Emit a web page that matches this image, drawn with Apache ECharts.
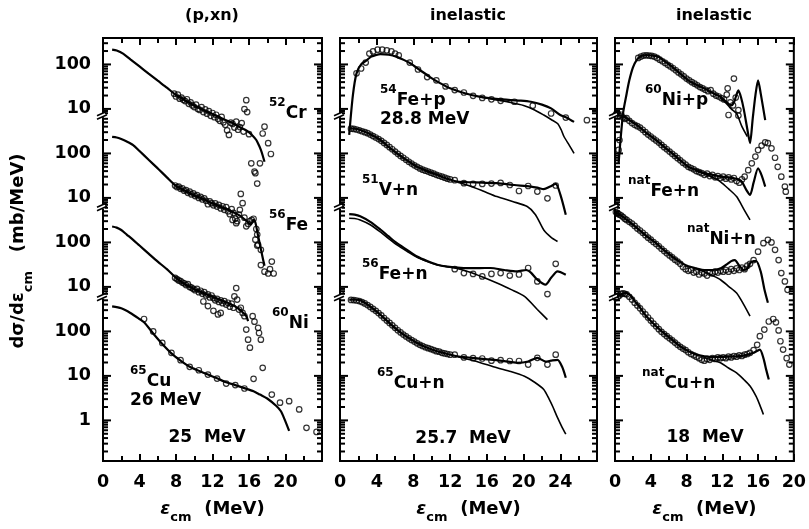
<!DOCTYPE html>
<html><head><meta charset="utf-8">
<script src="https://cdn.jsdelivr.net/npm/echarts@6/dist/echarts.min.js"></script>
<style>html,body{margin:0;padding:0;background:#fff}#c{width:809px;height:529px}</style>
</head><body><div id="c"></div>
<script>
// ================= DATA (energy in MeV, cross section in mb/MeV) =================
// ---- Panel 1: (p,xn), 25 MeV ----
const p1CrCalc = [[1,215],[1.5,205],[2.2,175],[3,130],[4,90],[5,62],[6,43],[7,30],[8,20.6],[9,15.5],[10,12],[11,9.5],[12,7.7],[13,6.2],[14,5],[15,3.9],[15.9,3.1],[16.4,2.5],[16.8,2.0],[17.1,1.5],[17.3,1.2],[17.5,0.9],[17.7,0.65]];
const p1CrExp = [[7.8,22],[8.0,19],[8.2,21],[8.4,17],[8.6,18],[8.8,16],[9.0,15],[9.2,16.5],[9.4,13],[9.6,14],[9.8,12],[10.0,11],[10.2,12.5],[10.4,10],[10.6,9.5],[10.8,11],[11.0,8.5],[11.2,9.8],[11.4,7.8],[11.6,8.9],[11.8,7],[12.0,8.1],[12.2,6.5],[12.4,7.4],[12.6,6],[12.8,5.4],[13.0,6.6],[13.2,5],[13.4,4.4],[13.6,3.3],[13.8,2.6],[14.0,4.9],[14.2,4.6],[14.4,3.8],[14.6,5.2],[14.8,3.4],[15.0,3.9],[15.2,4.8],[15.4,3.1],[15.5,9.9],[15.7,15.7],[15.8,8.5],[16.0,2.7],[16.25,0.6],[16.6,0.39],[16.7,0.36],[16.9,0.21],[17.2,0.6],[17.5,2.8],[17.7,4.0],[18.1,1.7],[18.4,0.97]];
const p1FeCalc = [[1,236],[1.5,228],[2,210],[2.6,185],[3.3,154],[4,113],[5,72],[6,46],[7,29],[8,18.6],[9,14.5],[10,11.5],[11,9.4],[12,7.6],[13,6.2],[14,5.1],[15,4.0],[15.6,3.2],[15.9,2.8],[16.2,2.5],[16.5,3.2],[16.7,2.8],[17,1.4],[17.2,0.9],[17.5,0.45],[17.7,0.3]];
const p1FeExp = [[7.9,19],[8.1,17.5],[8.3,18],[8.5,16],[8.7,16.5],[8.9,14.5],[9.1,15],[9.3,13],[9.5,13.8],[9.7,12],[9.9,12.6],[10.1,11],[10.3,11.6],[10.5,10],[10.7,10.6],[10.9,9.2],[11.1,9.8],[11.3,8.6],[11.5,7.2],[11.7,8.4],[11.9,7.6],[12.1,6.8],[12.3,7.5],[12.5,6.4],[12.7,7],[12.9,5.8],[13.1,6.5],[13.3,5.4],[13.5,6.2],[13.7,5],[13.9,4.3],[14.1,5.6],[14.2,3.2],[14.3,4.6],[14.5,3.4],[14.6,2.7],[14.7,3],[14.9,4.2],[15.0,5.4],[15.1,12.3],[15.3,7.6],[15.5,3.6],[15.7,2.3],[15.9,2.6],[16.1,3],[16.3,3.2],[16.5,3.4],[16.7,1.15],[16.8,2],[16.9,1.5],[16.9,0.85],[17.0,0.88],[17.3,0.68],[17.3,0.31],[17.7,0.22],[18.1,0.2],[18.3,0.25],[18.5,0.37],[18.7,0.2]];
const p1NiCalc = [[1,228],[1.5,215],[2,190],[2.6,150],[3.3,114],[4,85],[5,56],[6,37],[7,25],[8,16],[9,11.5],[10,9.0],[11,7.3],[12,6.0],[13,5.0],[14,4.1],[14.8,3.3],[15.3,2.7],[15.7,2.2],[15.9,1.7]];
const p1NiExp = [[7.9,16],[8.1,15],[8.3,14],[8.5,13.5],[8.7,12.5],[8.9,12],[9.1,11],[9.3,11.5],[9.5,10],[9.7,9.6],[9.9,9],[10.1,8.4],[10.3,9],[10.5,7.6],[10.7,8.2],[10.9,7],[11.0,4.7],[11.1,7.6],[11.3,6.4],[11.5,3.7],[11.5,6.8],[11.7,5.8],[11.9,6.4],[12.1,2.9],[12.1,5.6],[12.3,5],[12.5,5.4],[12.6,2.4],[12.7,4.6],[12.9,2.6],[12.9,5],[13.1,4.3],[13.3,4.8],[13.5,4],[13.7,4.4],[13.9,3.6],[14.1,4.2],[14.3,3.4],[14.4,6.1],[14.6,9.4],[14.7,5.2],[14.9,3.1],[15.1,3.4],[15.3,2.6],[15.5,2.2],[15.7,1.1],[15.9,0.65],[16.1,0.43],[16.4,2.2],[16.6,1.65],[17.0,1.2],[17.1,0.92],[17.3,0.65]];
const p1CuCalc = [[1,365],[2,330],[3,260],[4,190],[4.5,160],[5.5,90],[6.5,52],[7.5,32],[8.5,22],[9.5,16],[10.5,13],[11.5,10.7],[12.5,8.8],[13.5,7.2],[14.5,6.2],[15.5,5.3],[16.5,4.5],[17.2,3.8],[18,3.1],[19,2.1],[19.5,1.6],[19.9,1.05],[20.4,0.58]];
const p1CuExp = [[4.5,190],[5.5,100],[6.5,55],[7.5,33],[8.5,22.5],[9.5,16],[10.5,13.4],[11.5,10.7],[12.5,8.7],[13.5,6.7],[14.5,6.2],[15.5,5.2],[16.5,8.6],[17.5,15.2],[18.5,3.8],[19.4,2.5],[20.4,2.7],[21.5,1.76],[22.3,0.68],[23.4,0.55]];

// ---- Panel 2: inelastic, 25.7 MeV ----
const p2FepCalcA = [[1,2.6],[1.4,20],[1.8,63],[2.3,100],[2.9,124],[3.4,150],[3.8,160],[4.4,170],[5.3,165],[6.2,148],[7.0,125],[7.7,105],[8.7,75],[9.8,52],[10.9,38],[12,29],[13.6,22.5],[15.3,18.7],[17,16.8],[18.6,15.8],[19.7,15.4],[20.8,14.5],[22,12.5],[23,10.3],[24,7.3],[24.8,6.2],[25.5,5.1]];
const p2FepCalcB = [[15.3,18.5],[17,16],[18.6,14],[20,12],[21.2,9.5],[22.2,7.3],[23,5.8],[23.7,4.7],[24.1,3.4],[24.4,2.4],[25,1.5],[25.5,1.0]];
const p2FepExp = [[1.8,63],[2.3,81],[2.8,110],[3.2,175],[3.6,196],[4.1,215],[4.6,215],[5.1,208],[5.6,196],[6.0,175],[6.4,160],[7.6,110],[8.5,77],[9.5,52],[10.5,44],[11.5,32],[12.5,26.5],[13.5,23.4],[14.5,19.7],[15.5,17.7],[16.5,16.4],[17.5,15.2],[19.0,14.5],[21.0,11.8],[23.0,7.9],[24.6,6.4],[26.9,5.6]];
const p2VnCalcA = [[1,365],[1.6,360],[2.2,335],[3.3,270],[4.4,200],[5.3,140],[6.2,100],[7.3,70],[8.4,50],[9.5,40],[10.6,33],[11.7,27],[12.8,23.2],[14,22.5],[15.5,22],[17.1,21.4],[19,19.5],[20.8,18],[21.5,17],[22.2,15.7],[22.9,18],[23.5,20.6],[24,12],[24.6,4.2]];
const p2VnCalcB = [[12.8,22.5],[14,19],[15.5,14.5],[17.1,10.7],[18.8,8.3],[20.4,6.4],[21.3,4.2],[22.2,1.9],[23,1.3],[23.7,1.05]];
const p2VnExp = [[1.2,360],[1.5,355],[1.8,345],[2.1,330],[2.4,315],[2.7,300],[3.0,285],[3.3,265],[3.6,245],[3.9,228],[4.2,210],[4.5,192],[4.8,172],[5.1,155],[5.4,138],[5.7,124],[6.0,110],[6.3,98],[6.6,88],[6.9,80],[7.2,72],[7.5,65],[7.8,59],[8.1,54],[8.4,50],[8.7,46],[9.0,43],[9.3,41],[9.6,39],[9.9,37],[10.2,35],[10.5,33],[10.8,31.5],[11.1,30],[11.4,28.5],[11.7,27],[12.0,26],[12.5,25],[13.5,21.4],[14.5,20.6],[15.5,20.6],[16.5,21],[17.5,21.7],[18.5,19.5],[19.5,14.3],[20.5,18.5],[21.5,13.9],[22.6,9.8],[23.5,19]];
const p2FenCalcA = [[1,430],[1.6,420],[2.2,385],[3.3,290],[4.4,195],[5.3,136],[6.2,96],[7.3,68],[8.4,48],[9.5,38],[10.6,31.5],[11.7,28.5],[12.8,27],[14,26.3],[15.2,26.5],[16.4,26.6],[17.9,24],[19.3,22.3],[20.3,24],[20.8,21],[21.5,14.5],[22.4,11.2],[23.0,16],[23.7,22.3],[24.6,18.8]];
const p2FenCalcB = [[1,350],[1.6,345],[2.2,320],[3.3,250],[4.4,172],[5.3,122],[6.2,88],[7.3,63],[8.4,46],[9.5,37],[10.6,31],[12.4,27],[14,22],[15.6,16.5],[17.1,12.2],[18.6,8.8],[20.1,6.1],[21.5,3.1],[22.6,1.84]];
const p2FenExp = [[12.5,25],[13.5,20.5],[14.5,19.6],[15.5,17.2],[16.5,19.6],[17.5,20.5],[18.5,18],[19.5,19],[20.5,26.6],[21.5,13.3],[22.6,6.9],[23.5,33]];
const p2CunCalcA = [[1,518],[1.6,515],[2.2,500],[3.3,360],[4.4,237],[5.3,160],[6.2,110],[7.3,75],[8.4,55],[9.5,43],[10.6,35.8],[11.7,31],[12.8,27.6],[14.6,25],[16.4,23.3],[17.9,21.5],[19.3,19.7],[20.5,21],[21.5,25.5],[22.4,21],[23.0,22],[23.7,23],[24.2,16],[24.6,9.1]];
const p2CunCalcB = [[12.8,27],[14.6,22],[17.1,15.2],[18.6,12.5],[20.1,9.8],[21.2,7.2],[22.2,4.95],[22.8,2.96],[23.2,2.0],[23.7,1.15],[24.2,0.7],[24.6,0.49]];
const p2CunExp = [[1.2,510],[1.5,505],[1.8,495],[2.1,480],[2.4,455],[2.7,425],[3.0,390],[3.3,355],[3.6,320],[3.9,290],[4.2,258],[4.5,228],[4.8,200],[5.1,175],[5.4,155],[5.7,137],[6.0,120],[6.3,106],[6.6,95],[6.9,85],[7.2,77],[7.5,70],[7.8,64],[8.1,59],[8.4,54],[8.7,50],[9.0,47],[9.3,44],[9.6,42],[9.9,40],[10.2,38],[10.5,36],[10.8,35],[11.1,33],[11.4,32],[11.7,31],[12.0,30],[12.5,30],[13.5,26],[14.5,25],[15.5,24.6],[16.5,22],[17.5,22.5],[18.5,21.6],[19.5,21.6],[20.5,18],[21.5,25.5],[22.6,18],[23.5,30]];

// ---- Panel 3: inelastic, 18 MeV ----
const p3NipCalcA = [[0.4,0.6],[0.9,7.9],[1.3,22],[1.6,44],[2.0,85],[2.4,124],[2.9,153],[3.5,162],[4.0,160],[4.9,147],[5.5,120],[6.4,88],[7.3,62],[8.2,44],[9.1,35],[10,28.8],[10.9,23],[11.8,18.7],[12.5,14],[13.0,12],[13.3,14],[13.8,26],[14.1,18],[14.4,9.9],[14.8,3.5],[15.1,1.7],[15.4,6],[15.7,20],[16.0,44],[16.3,22],[16.8,5.6]];
const p3NipCalcB = [[11.8,18],[12.5,13],[13.0,10],[13.6,7.9],[14.2,4],[14.8,2.4]];
const p3NipExp = [[0.4,1.2],[0.5,2],[2.6,140],[2.9,150],[3.2,158],[3.5,160],[3.8,158],[4.1,155],[4.4,150],[4.7,140],[5.0,128],[5.3,118],[5.6,108],[5.9,98],[6.2,90],[6.5,82],[6.8,74],[7.1,66],[7.4,60],[7.7,54],[8.0,48],[8.3,44],[8.6,40],[8.9,37],[9.2,34],[9.5,31],[9.8,29],[10.1,27],[10.4,25],[10.7,26.4],[11.0,22],[11.3,20],[11.6,19],[11.9,17.5],[12.2,16.3],[12.5,21],[12.6,29],[12.7,7.3],[12.9,14],[13.2,12],[13.3,48],[13.5,18],[13.8,9.4],[13.8,7.1]];
const p3FenCalcA = [[0,700],[0.5,720],[1.3,620],[2.0,500],[2.7,397],[3.5,290],[4.6,200],[5.5,140],[6.4,100],[7.3,70],[8.2,50],[9.1,42],[10,36],[10.9,33],[11.8,30],[12.5,29],[13.3,27.6],[13.8,26],[14.2,23],[14.7,15],[15.1,11.7],[15.5,22],[16.0,46],[16.4,32],[16.8,17.9]];
const p3FenCalcB = [[9.1,40],[10,35],[10.9,29],[11.8,23],[12.7,16],[13.6,10.7],[14.4,5.6],[15.1,3.2]];
const p3FenExp = [[0.1,760],[0.3,800],[0.5,700],[0.7,740],[0.9,640],[1.1,600],[1.3,620],[1.6,540],[1.9,480],[2.2,440],[2.5,410],[2.8,380],[3.1,340],[3.4,300],[3.7,265],[4.0,240],[4.3,215],[4.6,195],[4.9,175],[5.2,155],[5.5,138],[5.8,124],[6.1,110],[6.4,98],[6.7,88],[7.0,78],[7.3,70],[7.6,62],[7.9,56],[8.2,50],[8.5,47],[8.8,44],[9.1,40],[9.4,38],[9.7,36],[10.0,33],[10.3,35],[10.6,31],[10.9,33],[11.2,29],[11.5,31],[11.8,28],[12.1,30],[12.4,27],[12.7,29],[13.0,26],[13.3,28],[13.6,24],[13.9,22],[14.2,26],[14.5,30],[14.9,42],[15.3,60],[15.7,85],[16.0,119],[16.4,150],[16.8,177],[17.1,170],[17.5,130],[17.9,80],[18.2,50],[18.6,30],[19.0,18],[19.1,13.8]];
const p3NinCalcA = [[0,470],[0.5,430],[1.3,322],[2.0,250],[2.7,192],[3.5,140],[4.6,96],[5.5,66],[6.4,48],[7.3,36],[8.2,29],[9.1,26],[10,24],[10.9,24],[11.8,26],[12.5,32],[13.0,38],[13.4,40],[13.9,30],[14.4,24],[14.8,26],[15.1,34],[15.5,38],[15.8,38],[16.3,22],[16.7,9],[17.1,4.4]];
const p3NinCalcB = [[9.1,25],[10,22],[10.9,18],[11.8,14.5],[12.7,10.3],[13.6,7.3],[14.4,4],[15.1,2.2]];
const p3NinExp = [[0.1,480],[0.3,450],[0.5,420],[0.7,400],[0.9,370],[1.1,340],[1.3,320],[1.6,290],[1.9,265],[2.2,235],[2.5,205],[2.8,185],[3.1,165],[3.4,145],[3.7,128],[4.0,115],[4.3,102],[4.6,92],[4.9,82],[5.2,72],[5.5,64],[5.8,57],[6.1,51],[6.4,46],[6.7,41],[7.0,37],[7.3,33],[7.6,28],[7.9,25],[8.2,23],[8.5,24],[8.8,21],[9.1,22],[9.4,19],[9.7,21],[10.0,20],[10.3,18],[10.6,21],[10.9,20],[11.2,22],[11.5,21],[11.8,23],[12.1,22],[12.4,24],[12.7,22],[13.0,25],[13.3,23],[13.6,26],[13.9,24],[14.2,27],[14.5,25],[14.8,30],[15.1,33],[15.5,40],[16.0,62],[16.6,96],[17.1,114],[17.5,100],[17.9,68],[18.3,40],[18.6,20.5],[19.0,13.3],[19.3,8.6]];
const p3CunCalcA = [[0,560],[0.5,650],[1.0,720],[1.3,730],[1.8,620],[2.2,480],[2.7,365],[3.5,220],[4.6,130],[5.5,90],[6.4,65],[7.3,46],[8.2,36],[9.1,30],[10,27.6],[10.9,26.5],[11.8,26.8],[12.7,27],[13.6,27.6],[14.5,29],[15.5,33],[16.2,39],[16.6,25],[16.9,14],[17.2,8.3]];
const p3CunCalcB = [[10,26],[10.9,22.5],[11.8,19.7],[12.7,15],[13.6,11.7],[14.4,8.3],[15.1,5.9],[15.8,3.4],[16.2,2.2],[16.6,1.36]];
const p3CunExp = [[0.1,560],[0.3,600],[0.5,640],[0.7,700],[0.9,720],[1.1,700],[1.3,680],[1.6,600],[1.9,520],[2.2,440],[2.5,380],[2.8,330],[3.1,280],[3.4,240],[3.7,205],[4.0,175],[4.3,150],[4.6,130],[4.9,112],[5.2,98],[5.5,87],[5.8,78],[6.1,70],[6.4,63],[6.7,56],[7.0,50],[7.3,45],[7.6,41],[7.9,38],[8.2,34],[8.5,31],[8.8,29],[9.1,27],[9.4,25],[9.7,23],[10.0,22],[10.3,24],[10.6,23],[10.9,25],[11.2,24],[11.5,26],[11.8,25],[12.1,26],[12.4,25],[12.7,27],[13.0,26],[13.3,28],[13.6,27],[13.9,29],[14.2,28],[14.5,30],[14.8,31],[15.1,33],[15.5,38],[15.9,50],[16.2,78],[16.7,110],[17.2,167],[17.7,190],[18.0,160],[18.3,105],[18.5,60],[18.8,39],[19.2,25],[19.5,18]];

// ---- axes / labels ----
const panelTitles = ['(p,xn)', 'inelastic', 'inelastic'];
const panelXMax = [24, 28, 20];
const xTickLabels = [[0,4,8,12,16,20],[0,4,8,12,16,20,24],[0,4,8,12,16,20]];
const yTickLabels = ['1','10','100','10','100','10','100','10','100']; // stacked log decades, bottom to top
const stackDecades = [0, 2, 4, 6];   // vertical shift (in decades) of the 4 stacked curves, bottom to top

// ================= CHART =================
const FONT = 'DejaVu Sans';
const Y_MIN = -0.913, Y_MAX = 8.594;
const breaks = [2.78, 4.80, 6.86];
const segs = [[Y_MIN, breaks[0], stackDecades[0]], [breaks[0], breaks[1], stackDecades[1]], [breaks[1], breaks[2], stackDecades[2]], [breaks[2], Y_MAX, stackDecades[3]]];
const logTicks = [];   // [u, isDecade]
segs.forEach(([lo, hi, k]) => {
  for (let d = -2; d <= 4; d++) for (let m = 1; m <= 9; m++) {
    const u = Math.log10(m) + d + k;
    if (u > lo + 0.015 && u < hi - 0.015) logTicks.push([u, m === 1 ? 1 : 0]);
  }
});
const labelU = yTickLabels.map((_, i) => i);

const grids = [
  {left: 103, top: 38, width: 219, height: 424},
  {left: 340, top: 38, width: 257, height: 424},
  {left: 615, top: 38, width: 183, height: 424}
];

const panels = [
  [ {k: stackDecades[3], lines: [p1CrCalc], pts: p1CrExp},
    {k: stackDecades[2], lines: [p1FeCalc], pts: p1FeExp},
    {k: stackDecades[1], lines: [p1NiCalc], pts: p1NiExp},
    {k: stackDecades[0], lines: [p1CuCalc], pts: p1CuExp} ],
  [ {k: stackDecades[3], lines: [p2FepCalcA, p2FepCalcB], pts: p2FepExp},
    {k: stackDecades[2], lines: [p2VnCalcA, p2VnCalcB], pts: p2VnExp},
    {k: stackDecades[1], lines: [p2FenCalcA, p2FenCalcB], pts: p2FenExp},
    {k: stackDecades[0], lines: [p2CunCalcA, p2CunCalcB], pts: p2CunExp} ],
  [ {k: stackDecades[3], lines: [p3NipCalcA, p3NipCalcB], pts: p3NipExp},
    {k: stackDecades[2], lines: [p3FenCalcA, p3FenCalcB], pts: p3FenExp},
    {k: stackDecades[1], lines: [p3NinCalcA, p3NinCalcB], pts: p3NinExp},
    {k: stackDecades[0], lines: [p3CunCalcA, p3CunCalcB], pts: p3CunExp} ]
];
const toU = (arr, k) => arr.map(([e, v]) => [e, Math.log10(v) + k]);

const labelStyle = {fontFamily: FONT, fontWeight: 'bold', fontSize: 17.5, color: '#000'};
const xAxes = [], yAxes = [], series = [];
grids.forEach((g, gi) => {
  const xBase = {type: 'value', gridIndex: gi, min: 0, max: panelXMax[gi], interval: 4,
    splitLine: {show: false},
    axisLine: {show: true, onZero: false, lineStyle: {color: '#000', width: 2}},
    axisTick: {show: true, inside: true, length: 7, lineStyle: {color: '#000', width: 2}},
    minorTick: {show: true, splitNumber: 2, length: 5, lineStyle: {color: '#000', width: 2}}};
  xAxes.push(Object.assign({}, xBase, {position: 'bottom',
    axisLabel: Object.assign({show: true, margin: 12, customValues: xTickLabels[gi]}, labelStyle),
    name: '{e|ε}{s|cm}{n|  (MeV)}', nameLocation: 'middle', nameGap: 33,
    nameTextStyle: {rich: {
      e: {fontFamily: FONT, fontSize: 18, fontWeight: 'bold', fontStyle: 'italic', lineHeight: 30, verticalAlign: 'middle'},
      s: {fontFamily: FONT, fontSize: 13, fontWeight: 'bold', lineHeight: 12, verticalAlign: 'bottom'},
      n: {fontFamily: FONT, fontSize: 18, fontWeight: 'bold', lineHeight: 30, verticalAlign: 'middle'}}}}));
  xAxes.push(Object.assign({}, xBase, {position: 'top', axisLabel: {show: false}}));
  yAxes.push({type: 'value', gridIndex: gi, min: Y_MIN, max: Y_MAX, position: 'left', splitLine: {show: false},
    axisLine: {show: true, onZero: false, lineStyle: {color: '#000', width: 2}}, axisTick: {show: false},
    axisLabel: gi === 0 ? Object.assign({show: true, margin: 12, customValues: labelU,
      formatter: v => yTickLabels[Math.round(v)]}, labelStyle) : {show: false}});
  panels[gi].forEach(c => {
    c.lines.forEach((ln, li) => series.push({type: 'line', xAxisIndex: gi * 2, yAxisIndex: gi,
      data: toU(ln, c.k), showSymbol: false, smooth: 0.25, silent: true,
      lineStyle: {color: '#000', width: li === 0 ? 2.2 : 1.6}, z: 2}));
    series.push({type: 'scatter', xAxisIndex: gi * 2, yAxisIndex: gi, data: toU(c.pts, c.k),
      symbol: 'circle', symbolSize: 5.5, silent: true,
      itemStyle: {color: 'rgba(0,0,0,0)', borderColor: '#000', borderWidth: 1.2}, z: 3});
  });
  // log-scale tick marks on left and right frame edges (drawn through the axis scale)
  const xMax = panelXMax[gi];
  series.push({type: 'custom', xAxisIndex: gi * 2, yAxisIndex: gi, data: logTicks, silent: true, clip: false, z: 5,
    renderItem: (params, api) => {
      const u = api.value(0), major = api.value(1);
      const pl = api.coord([0, u]), pr = api.coord([xMax, u]);
      const len = major ? 8 : 5;
      return {type: 'group', children: [
        {type: 'line', shape: {x1: pl[0], y1: pl[1], x2: pl[0] + len, y2: pl[1]}, style: {stroke: '#000', lineWidth: 2}},
        {type: 'line', shape: {x1: pr[0] - len, y1: pr[1], x2: pr[0], y2: pr[1]}, style: {stroke: '#000', lineWidth: 2}}
      ]};
    }});
});

// annotations
const supRich = {
  b: {fontFamily: FONT, fontSize: 17, fontWeight: 'bold', lineHeight: 34, verticalAlign: 'middle', fill: '#000'},
  p: {fontFamily: FONT, fontSize: 12, fontWeight: 'bold', lineHeight: 13, verticalAlign: 'top', fill: '#000'}
};
function tag(x, y, sup, main) {
  return {type: 'text', x: x, y: y, z: 50, style: {text: '{p|' + sup + '}{b|' + main + '}', rich: supRich, align: 'left', verticalAlign: 'middle'}};
}
function plain(x, y, txt, align) {
  return {type: 'text', x: x, y: y, z: 50, style: {text: txt, font: 'bold 17px "' + FONT + '"', fill: '#000', align: align || 'left', verticalAlign: 'middle'}};
}
const graphics = [
  {type: 'text', x: 212, y: 16, style: {text: panelTitles[0], font: 'bold 16px "' + FONT + '"', fill: '#000', align: 'center', verticalAlign: 'middle'}},
  {type: 'text', x: 468, y: 16, style: {text: panelTitles[1], font: 'bold 16px "' + FONT + '"', fill: '#000', align: 'center', verticalAlign: 'middle'}},
  {type: 'text', x: 714, y: 16, style: {text: panelTitles[2], font: 'bold 16px "' + FONT + '"', fill: '#000', align: 'center', verticalAlign: 'middle'}},
  tag(269, 114, '52', 'Cr'), tag(269, 226, '56', 'Fe'), tag(272, 324, '60', 'Ni'), tag(130, 382, '65', 'Cu'),
  plain(130, 401, '26 MeV'), plain(207, 438, '25  MeV', 'center'),
  tag(380, 101, '54', 'Fe+p'), plain(380, 120, '28.8 MeV'), tag(362, 191, '51', 'V+n'), tag(362, 275, '56', 'Fe+n'),
  tag(377, 384, '65', 'Cu+n'), plain(463, 439, '25.7  MeV', 'center'),
  tag(645, 101, '60', 'Ni+p'), tag(628, 192, 'nat', 'Fe+n'), tag(687, 240, 'nat', 'Ni+n'), tag(642, 384, 'nat', 'Cu+n'),
  plain(705, 438, '18  MeV', 'center'),
  {type: 'text', x: 18, y: 251, rotation: Math.PI / 2, z: 50, style: {
    text: '{b|dσ/dε}{s|cm}{b|   (mb/MeV)}', align: 'center', verticalAlign: 'middle',
    rich: {b: {fontFamily: FONT, fontSize: 18, fontWeight: 'bold', lineHeight: 34, verticalAlign: 'middle', fill: '#000'},
           s: {fontFamily: FONT, fontSize: 13, fontWeight: 'bold', lineHeight: 12, verticalAlign: 'bottom', fill: '#000'}}}}
];

const chart = echarts.init(document.getElementById('c'), null, {renderer: 'canvas'});
chart.setOption({
  animation: false, backgroundColor: '#fff',
  grid: grids.map(g => Object.assign({show: true, borderColor: '#000', borderWidth: 2, backgroundColor: 'transparent'}, g)),
  xAxis: xAxes, yAxis: yAxes, series: series, graphic: graphics
});

// axis break marks on the left edge of each panel
const deco = [];
grids.forEach((g, gi) => {
  breaks.forEach(u => {
    const p = chart.convertToPixel({xAxisIndex: gi * 2, yAxisIndex: gi}, [0, u]);
    deco.push({type: 'rect', x: p[0] - 2, y: p[1] - 2, z: 60, shape: {x: 0, y: 0, width: 4, height: 4}, style: {fill: '#fff'}});
    deco.push({type: 'line', z: 61, shape: {x1: p[0] - 6, y1: p[1] + 0.5, x2: p[0] + 4, y2: p[1] - 4}, style: {stroke: '#000', lineWidth: 1.6}});
    deco.push({type: 'line', z: 61, shape: {x1: p[0] - 6, y1: p[1] + 4, x2: p[0] + 4, y2: p[1] - 0.5}, style: {stroke: '#000', lineWidth: 1.6}});
  });
});
chart.setOption({graphic: graphics.concat(deco)});
</script></body></html>
